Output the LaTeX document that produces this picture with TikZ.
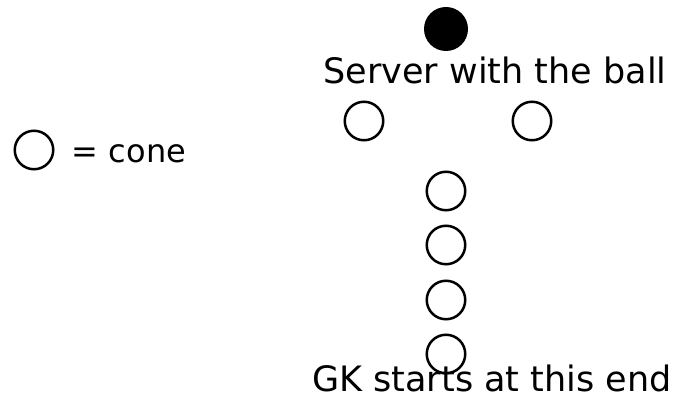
\documentclass[tikz,border=0pt]{standalone}
\usepackage{fontspec}
\setmainfont{DejaVu Sans}
\begin{document}
\begin{tikzpicture}[x=1pt,y=-1pt,
  cone/.style={circle,draw=black,line width=2.5pt,minimum size=38.5pt,inner sep=0pt},
  ball/.style={circle,fill=black,minimum size=44pt,inner sep=0pt},
  lbl/.style={anchor=base,inner sep=0pt,font=\fontsize{35}{40}\selectfont}]
\useasboundingbox (0,0) rectangle (678,398);
\node[ball] (ball) at (446,29) {};
\node[lbl] (server) at (495,84) {Server with the ball};
\node[cone] (c1) at (364,121) {};
\node[cone] (c2) at (532,121) {};
\node[cone] (legend) at (34,150) {};
\node[lbl,font=\fontsize{32}{38}\selectfont] (legtext) at (129,163) {= cone};
\node[cone] (r1) at (446,191) {};
\node[cone] (r2) at (446,245) {};
\node[cone] (r3) at (446,300) {};
\node[cone] (r4) at (446,354) {};
\node[lbl] (gk) at (492,391) {GK starts at this end};
\end{tikzpicture}
\end{document}
